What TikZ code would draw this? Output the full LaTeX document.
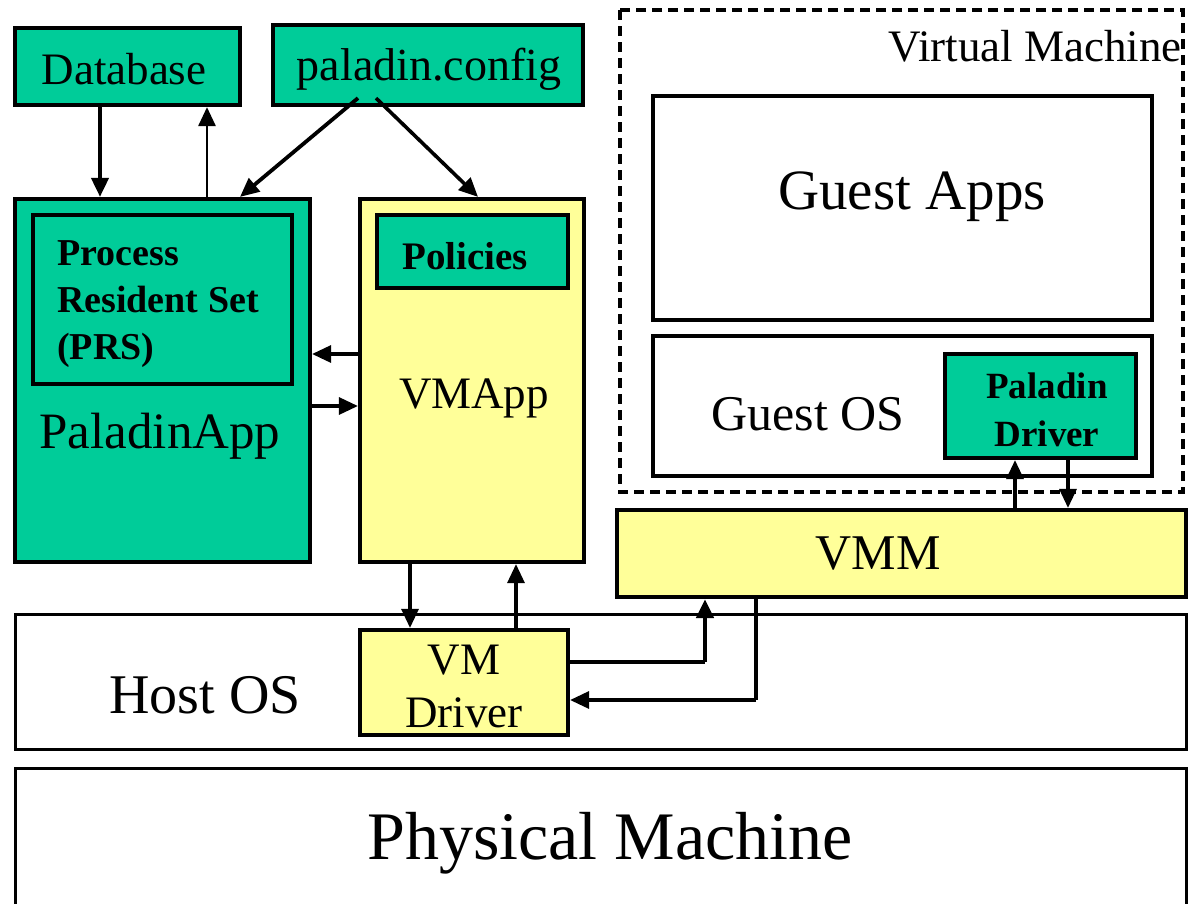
\documentclass[tikz,border=0pt]{standalone}
\usepackage{fontspec}
\setmainfont{Liberation Serif}
\usetikzlibrary{arrows.meta}
\definecolor{pgreen}{HTML}{00CC99}
\definecolor{pyellow}{HTML}{FFFF99}
\newcommand{\fs}[2]{\fontsize{#1}{#2}\selectfont}
\tikzset{
  box/.style={draw=black, line width=4.2pt, rectangle, inner sep=0pt},
  gbox/.style={box, fill=pgreen},
  ybox/.style={box, fill=pyellow},
  wbox/.style={box, fill=white},
  lbl/.style={inner sep=0pt, text=black},
  link/.style={line width=3.2pt, -{Triangle[length=19pt,width=17pt]}},
  plain/.style={line width=3.2pt}
}
\begin{document}
\begin{tikzpicture}[x=1pt,y=-1pt]
\useasboundingbox[fill=white] (0,0) rectangle (1188,903);

% host side components
\node[gbox, minimum width=225pt, minimum height=77pt] (db) at (127.5,66.5) {};
\node[lbl] (dbtxt) at (124,69) {\fs{45}{50}Database};
\node[gbox, minimum width=310pt, minimum height=80pt] (cfg) at (428,65) {};
\node[lbl] (cfgtxt) at (429,69) {\fs{46}{50}paladin.config};

\node[gbox, minimum width=295pt, minimum height=363pt] (papp) at (162.5,380.5) {};
\node[gbox, minimum width=259pt, minimum height=169pt] (prs) at (162.5,299.5) {};
\node[lbl, anchor=west, align=left, font=\fs{38}{47}\bfseries] (prstxt) at (57,304) {Process\\Resident Set\\(PRS)};
\node[lbl] (papptxt) at (160,436) {\fs{51}{55}PaladinApp};

\node[ybox, minimum width=224pt, minimum height=363pt] (vmapp) at (472,380.5) {};
\node[gbox, minimum width=191pt, minimum height=73pt] (pol) at (472.5,251.5) {};
\node[lbl] (poltxt) at (465,256) {\fs{39}{45}\bfseries Policies};
\node[lbl] (vmapptxt) at (474,398) {\fs{45}{50}VMApp};

% virtual machine
\draw[line width=3.2pt, dash pattern=on 10pt off 6pt] (620,10) rectangle (1183,492);
\node[lbl, anchor=north east] (vmtxt) at (1182,30) {\fs{45}{50}Virtual Machine};
\node[wbox, minimum width=499pt, minimum height=224pt] (gapps) at (902.5,208) {};
\node[lbl] (gappstxt) at (912,197) {\fs{57}{60}Guest Apps};
\node[wbox, minimum width=499pt, minimum height=140pt] (gos) at (902.5,406) {};
\node[lbl] (gostxt) at (808,414) {\fs{50}{55}Guest OS};
\node[gbox, minimum width=191pt, minimum height=104pt] (pdrv) at (1040.5,406) {};
\node[lbl, align=center, font=\fs{37}{48}\bfseries] (pdrvtxt) at (1047,410) {Paladin\\Driver};

\node[ybox, minimum width=569pt, minimum height=87pt] (vmm) at (901.5,553.5) {};
\node[lbl] (vmmtxt) at (878,553) {\fs{50}{55}VMM};

% host OS and hardware
\node[wbox, line width=3pt, minimum width=1171pt, minimum height=135pt] (host) at (600.5,681.5) {};
\node[lbl] (hosttxt) at (205,695) {\fs{56}{60}Host OS};
\node[ybox, minimum width=208pt, minimum height=105pt] (vmdrv) at (464,682.5) {};
\node[lbl, align=center, font=\fs{45}{53}] (vmdrvtxt) at (464,686) {VM\\Driver};
\node[wbox, line width=3pt, minimum width=1171pt, minimum height=170pt] (phys) at (600.5,853) {};
\node[lbl] (physlbl) at (610,843) {\fs{68}{72}Physical Machine};

% connectors
\draw[link, line width=4pt] ([xshift=-27.5pt]db.south) -- ([xshift=-62.5pt]papp.north);
\draw[link, line width=2.8pt] ([xshift=44.5pt]papp.north) -- ([xshift=79.5pt]db.south);
\draw[link, line width=3.8pt] ([xshift=-70pt,yshift=9pt]cfg.south) -- ([xshift=77.5pt]papp.north);
\draw[link, line width=3.6pt] ([xshift=-52pt,yshift=9pt]cfg.south) -- ([xshift=6pt]vmapp.north);
\draw[link] ([yshift=26.5pt]vmapp.west) -- ([yshift=26.5pt]papp.east);
\draw[link] ([yshift=-25.5pt]papp.east) -- ([yshift=-25.5pt]vmapp.west);
\draw[link] ([xshift=-62pt]vmapp.south) -- ([xshift=-54pt]vmdrv.north);
\draw[link] ([xshift=52pt]vmdrv.north) -- ([xshift=44pt]vmapp.south);
\coordinate (c1) at (705,662);
\coordinate (c2) at (756,700);
\draw[plain] ([yshift=20.5pt]vmdrv.east) -- (c1);
\draw[link, line width=4.4pt] (c1) -- ([xshift=-196.5pt]vmm.south);
\draw[plain] ([xshift=-145.5pt]vmm.south) -- (c2);
\draw[link] (c2) -- ([yshift=-17.5pt]vmdrv.east);
\draw[link] ([xshift=113.5pt]vmm.north) -- ([xshift=-25.5pt]pdrv.south);
\draw[link] ([xshift=27.5pt]pdrv.south) -- ([xshift=166.5pt]vmm.north);
\end{tikzpicture}
\end{document}
